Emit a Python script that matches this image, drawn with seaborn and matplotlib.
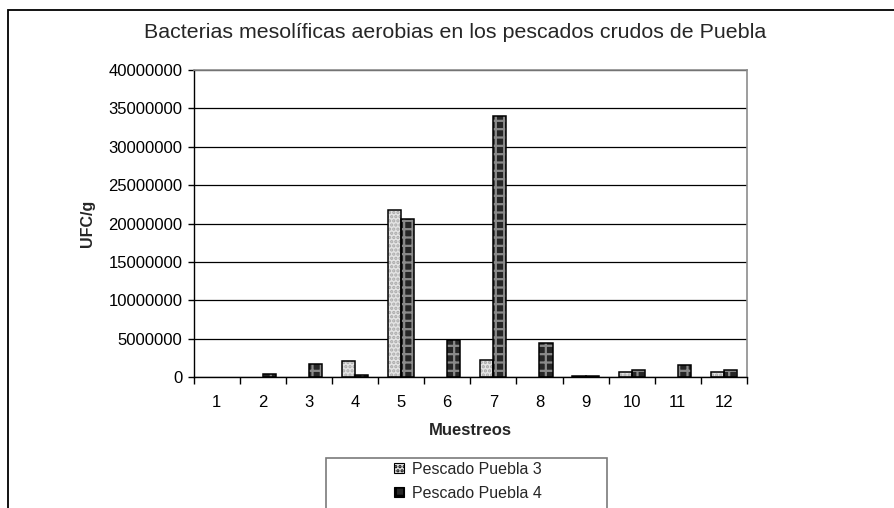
import matplotlib
matplotlib.use("Agg")
import matplotlib.pyplot as plt
from matplotlib.patches import Rectangle, Patch
from matplotlib.ticker import FixedLocator, StrMethodFormatter
import seaborn as sns
import pandas as pd

# ---- data ----
muestreos = ["1", "2", "3", "4", "5", "6", "7", "8", "9", "10", "11", "12"]
pescado_puebla_3 = [0, 0, 0, 2100000, 21800000, 0, 2250000, 0, 150000, 600000, 0, 600000]
pescado_puebla_4 = [0, 420000, 1650000, 200000, 20550000, 4800000, 34000000, 4400000, 150000, 850000, 1500000, 850000]
series_names = ["Pescado Puebla 3", "Pescado Puebla 4"]
y_ticks = [0, 5000000, 10000000, 15000000, 20000000, 25000000, 30000000, 35000000, 40000000]
title = "Bacterias mesolíficas aerobias en los pescados crudos de Puebla"
x_label = "Muestreos"
y_label = "UFC/g"

df = pd.DataFrame({
    "Muestreo": muestreos * 2,
    "UFC": pescado_puebla_3 + pescado_puebla_4,
    "Serie": [series_names[0]] * len(muestreos) + [series_names[1]] * len(muestreos),
})

sns.set_style("white")
plt.rcParams["font.family"] = ["Liberation Sans", "DejaVu Sans"]
plt.rcParams["hatch.linewidth"] = 1.6

face = {series_names[0]: "#e4e4e4", series_names[1]: "#262626"}
hatch_col = {series_names[0]: "#a8a8a8", series_names[1]: "#8a8a8a"}
hatches = {series_names[0]: "....", series_names[1]: "++"}

fig = plt.figure(figsize=(8.94, 5.08), dpi=100)
W, H = 894, 508
ax = fig.add_axes([193.5 / W, 1 - 377 / H, (747 - 193.5) / W, (377 - 70) / H])

sns.barplot(data=df, x="Muestreo", y="UFC", hue="Serie", order=muestreos,
            hue_order=series_names, palette=face, width=0.571, ax=ax,
            legend=False, saturation=1)

for cont, name in zip(ax.containers, series_names):
    for bar in cont:
        bar.set_hatch(hatches[name])
        bar.set_edgecolor(hatch_col[name])
        bar.set_linewidth(0)
        bar.set_zorder(2)
        if bar.get_height() > 0:
            ax.add_patch(Rectangle(bar.get_xy(), bar.get_width(), bar.get_height(),
                                   fill=False, edgecolor="black", lw=1.1, zorder=3))

ax.set_xlim(-0.5, len(muestreos) - 0.5)
ax.set_ylim(y_ticks[0], y_ticks[-1])
ax.set_yticks(y_ticks)
ax.yaxis.set_major_formatter(StrMethodFormatter("{x:.0f}"))
ax.set_axisbelow(True)
ax.yaxis.grid(True, color="black", lw=0.9)
ax.xaxis.grid(False)

# category boundaries as tick marks, labels centred
ax.xaxis.set_minor_locator(FixedLocator([i - 0.5 for i in range(len(muestreos) + 1)]))
ax.tick_params(axis="x", which="major", length=0, pad=13, labelsize=12, colors="black")
ax.tick_params(axis="x", which="minor", length=5, width=1, color="black", direction="out")
ax.tick_params(axis="y", which="major", length=4, width=1, color="black", direction="out",
               pad=4, labelsize=12, labelcolor="black")
ax.tick_params(bottom=True, left=True, which="both")

for s in ["left", "bottom"]:
    ax.spines[s].set_color("black")
    ax.spines[s].set_linewidth(1)
for s in ["top", "right"]:
    ax.spines[s].set_color("#8c8c8c")
    ax.spines[s].set_linewidth(1.2)

ax.set_xlabel(x_label, fontsize=12, fontweight="bold")
ax.set_ylabel(y_label, fontsize=11.5, fontweight="bold")
ax.xaxis.set_label_coords(0.5, (377 - 423) / 307)
ax.yaxis.set_label_coords((95 - 193.5) / 553.5, 0.5)

fig.text(455 / W, 1 - 32 / H, title, ha="center", va="center", fontsize=15.4)

# outer chart border (continues past right/bottom edges)
fig.add_artist(Rectangle((8 / W, -0.1), 1.2, 1 - 10 / H + 0.1, transform=fig.transFigure,
                         fill=False, edgecolor="black", lw=1.3))

# legend box (continues past bottom edge)
fig.add_artist(Rectangle((326 / W, -0.1), (607 - 326) / W, 1 - 458 / H + 0.1,
                         transform=fig.transFigure, fill=False, edgecolor="#7a7a7a", lw=1.2))
handles = [Patch(facecolor=face[n], edgecolor="black", hatch=hatches[n], lw=0.8) for n in series_names]
leg = fig.legend(handles, series_names, loc="upper left",
                 bbox_to_anchor=(394 / W, 1 - 462 / H), frameon=False,
                 fontsize=11.5, handlelength=0.6, handleheight=0.6,
                 handletextpad=0.55, labelspacing=0.55, borderpad=0, borderaxespad=0)

fig.savefig("out.png", dpi=100)
